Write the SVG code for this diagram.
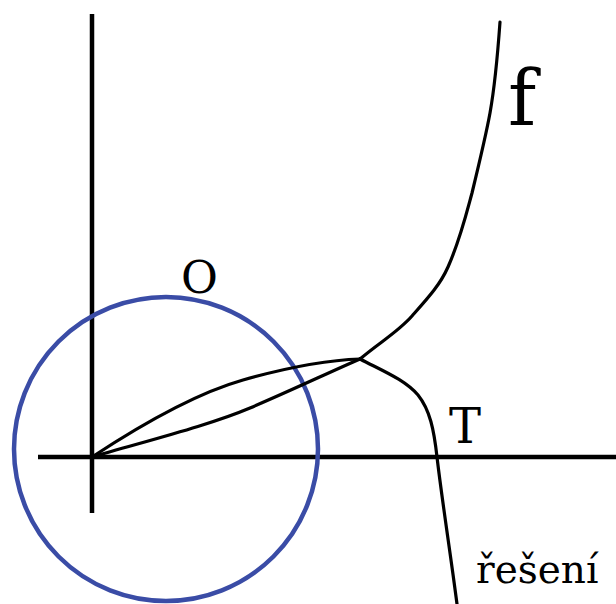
<svg xmlns="http://www.w3.org/2000/svg" width="616" height="604" viewBox="0 0 616 604">
<style>
.ax{stroke:#000;stroke-width:4.5;fill:none}
.cv{stroke:#000;stroke-width:3.2;fill:none;stroke-linecap:round}
.lbl{font-family:"DejaVu Serif","Liberation Serif","Times New Roman",serif;fill:#000}
</style>
<rect width="616" height="604" fill="#fff"/>
<g id="axes">
<line class="ax" x1="92" y1="14" x2="92" y2="513"/>
<line class="ax" x1="38" y1="457" x2="616" y2="457"/>
</g>
<g id="circle-O">
<circle cx="166" cy="449" r="152" fill="none" stroke="#3a4ca6" stroke-width="4.5"/>
</g>
<g id="connectors">
<path class="cv" d="M92,457 C130,432 190,395 243,380 S330,360 360,359"/>
<path class="cv" d="M92,457 C150,440 210,425 250,408 S330,372 360,359"/>
<path class="cv" d="M360,359 C380,342 398,332 412,316 C428,298 440,285 448,267 C460,240 466,215 472,193 C480,160 486,135 490,113 C495,85 498,50 500,22"/>
<path class="cv" d="M360,359 C385,372 405,380 418,395 C430,410 434,430 437,457 C442,500 450,550 457,604"/>
</g>
<g id="labels">
<text class="lbl" x="181" y="293" font-size="45">O</text>
<text class="lbl" x="508" y="125" font-size="76">f</text>
<text class="lbl" x="449" y="443" font-size="48">T</text>
<text class="lbl" x="476" y="583" font-size="39">řešení</text>
</g>
</svg>
